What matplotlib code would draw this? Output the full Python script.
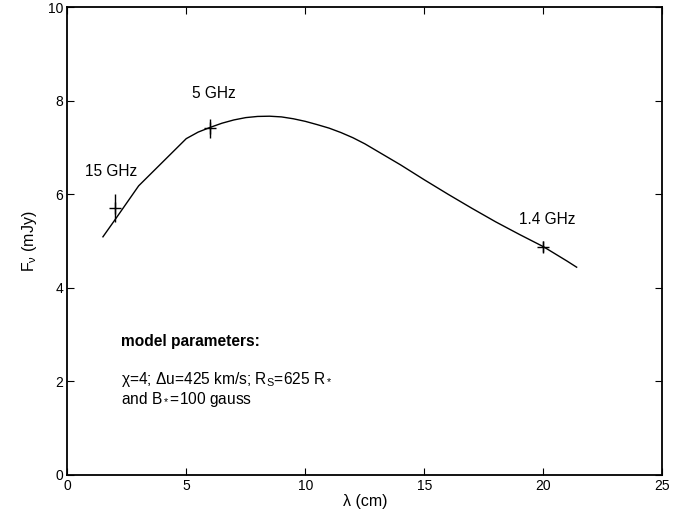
import matplotlib
matplotlib.use("Agg")
import matplotlib.pyplot as plt

plt.rcParams['font.family'] = ['Liberation Sans', 'DejaVu Sans']
plt.rcParams['mathtext.fontset'] = 'custom'
plt.rcParams['mathtext.rm'] = 'Liberation Sans'
plt.rcParams['mathtext.it'] = 'Liberation Sans'
plt.rcParams['mathtext.default'] = 'regular'

# model curve
model_lambda = [1.5, 2.0, 3.0, 5.0, 5.5, 6.0, 6.5, 7.0, 7.5, 8.0, 8.5, 9.0, 9.5,
                10.0, 10.5, 11.0, 11.5, 12.0, 12.5, 13.0, 13.5, 14.0, 15.0,
                16.0, 17.0, 18.0, 19.0, 20.0, 21.0, 21.4]
model_flux = [5.09, 5.45, 6.18, 7.19, 7.33, 7.43, 7.52, 7.59, 7.64, 7.665, 7.67,
              7.655, 7.615, 7.56, 7.49, 7.415, 7.32, 7.21, 7.08, 6.93, 6.78,
              6.63, 6.31, 6.00, 5.70, 5.41, 5.14, 4.88, 4.57, 4.44]

# observations
obs_lambda = [2.0, 6.0, 20.0]
obs_flux = [5.70, 7.41, 4.88]
obs_err = [0.30, 0.20, 0.12]
obs_labels = ['15 GHz', '5 GHz', '1.4 GHz']
label_x = [1.84, 6.17, 20.15]
label_y = [6.49, 8.16, 5.45]

fig = plt.figure(figsize=(6.86, 5.2), dpi=100)
ax = fig.add_axes([0.098, 0.087, 0.8675, 0.899])

ax.plot(model_lambda, model_flux, color='black', lw=1.0)
ax.errorbar(obs_lambda, obs_flux, yerr=obs_err, fmt='+', color='black',
            ms=8, mew=1.0, elinewidth=1.0, capsize=0)

for t, x, y in zip(obs_labels, label_x, label_y):
    ax.text(x, y, t, ha='center', va='center', fontsize=11.2)

ax.text(2.25, 2.86, 'model parameters:', fontsize=11.2, fontweight='bold',
        ha='left', va='center')
ax.text(2.25, 2.03, 'χ=4; Δu=425 km/s; R$_S$=625 R$_*$', fontsize=11.2,
        ha='left', va='center')
ax.text(2.25, 1.62, 'and B$_*$=100 gauss', fontsize=11.2, ha='left', va='center')

ax.set_xlim(0, 25)
ax.set_ylim(0, 10)
ax.set_xticks([0, 5, 10, 15, 20, 25])
ax.set_yticks([0, 2, 4, 6, 8, 10])
ax.tick_params(direction='in', top=True, right=True, length=5, width=0.8,
               labelsize=10, pad=3)
for s in ax.spines.values():
    s.set_linewidth(1.3)

ax.set_xlabel('λ (cm)', fontsize=11.5, labelpad=1)
ax.set_ylabel(r'F$_\nu$ (mJy)', fontsize=11.5, labelpad=6)

fig.savefig('out.png', dpi=100)
